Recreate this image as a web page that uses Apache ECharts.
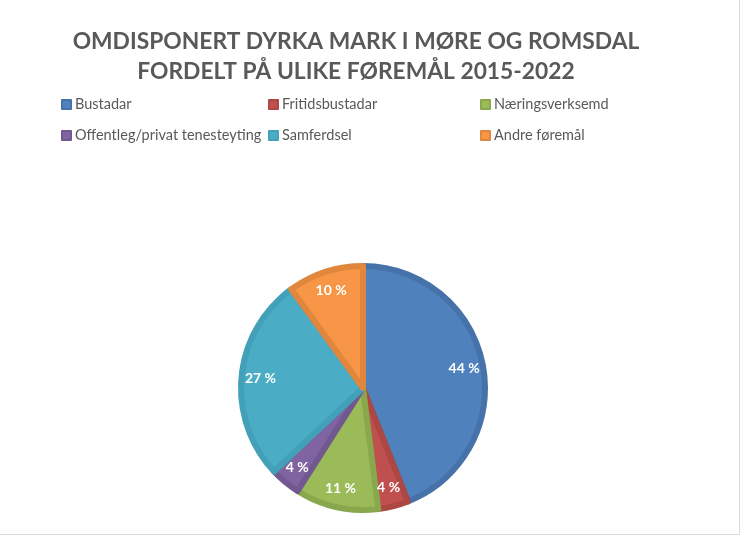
<!DOCTYPE html>
<html>
<head>
<meta charset="utf-8">
<script src="https://cdn.jsdelivr.net/npm/echarts@6/dist/echarts.min.js"></script>
<style>
html,body{margin:0;padding:0;background:#fff;}
#c{width:739px;height:534px;border-right:1px solid #d9d9d9;border-bottom:1px solid #d9d9d9;}
</style>
</head>
<body>
<div id="c"></div>
<script>
const titleText = 'OMDISPONERT DYRKA MARK I MØRE OG ROMSDAL\nFORDELT PÅ ULIKE FØREMÅL 2015-2022';
const categories = ['Bustadar','Fritidsbustadar','Næringsverksemd','Offentleg/privat tenesteyting','Samferdsel','Andre føremål'];
const shares = [44, 4, 11, 4, 27, 10];
const fillColors = ['#4F81BD','#C0504D','#9BBB59','#8064A2','#4BACC6','#F79646'];
const edgeColors = ['#4672A9','#AC4744','#89A84E','#715891','#42A0B8','#E0873D'];

const chart = echarts.init(document.getElementById('c'), null, {renderer:'canvas'});
const data = categories.map((n,i)=>({
  name:n, value:shares[i],
  itemStyle:{color:fillColors[i], borderColor:edgeColors[i], borderWidth:6}
}));
const labelData = categories.map((n,i)=>({name:n, value:shares[i]}));
const fontFam = 'Lato, "Open Sans", sans-serif';
function legendCol(names, left){
  return {
    data:names, orient:'vertical', left:left, top:97, padding:0,
    itemWidth:9, itemHeight:9, itemGap:16, icon:'rect',
    textStyle:{color:'#595959', fontSize:14.5, fontFamily:fontFam, padding:[0,0,0,-1]},
    selectedMode:false
  };
}
chart.setOption({
  animation:false,
  title:{
    text:titleText, left:351, top:22, textAlign:'center',
    textStyle:{color:'#595959', fontSize:22.8, fontWeight:'bold', fontFamily:fontFam, lineHeight:30}
  },
  legend:[
    legendCol([categories[0],categories[3]], 61),
    legendCol([categories[1],categories[4]], 268),
    legendCol([categories[2],categories[5]], 480)
  ],
  series:[{
    type:'pie',
    center:[363,388],
    radius:['0%',122],
    startAngle:90,
    clockwise:true,
    data:data,
    label:{show:false},
    labelLine:{show:false},
    emphasis:{disabled:true},
    silent:true
  },{
    type:'pie',
    center:[363,388],
    radius:[78,122],
    startAngle:90,
    clockwise:true,
    data:labelData,
    itemStyle:{color:'rgba(0,0,0,0)', borderWidth:0},
    label:{
      show:true, position:'inside',
      formatter:(p)=>p.value+' %',
      color:'#fff', fontSize:14, fontWeight:'bold', fontFamily:fontFam
    },
    labelLine:{show:false},
    emphasis:{disabled:true},
    silent:true
  }]
});
</script>
</body>
</html>
